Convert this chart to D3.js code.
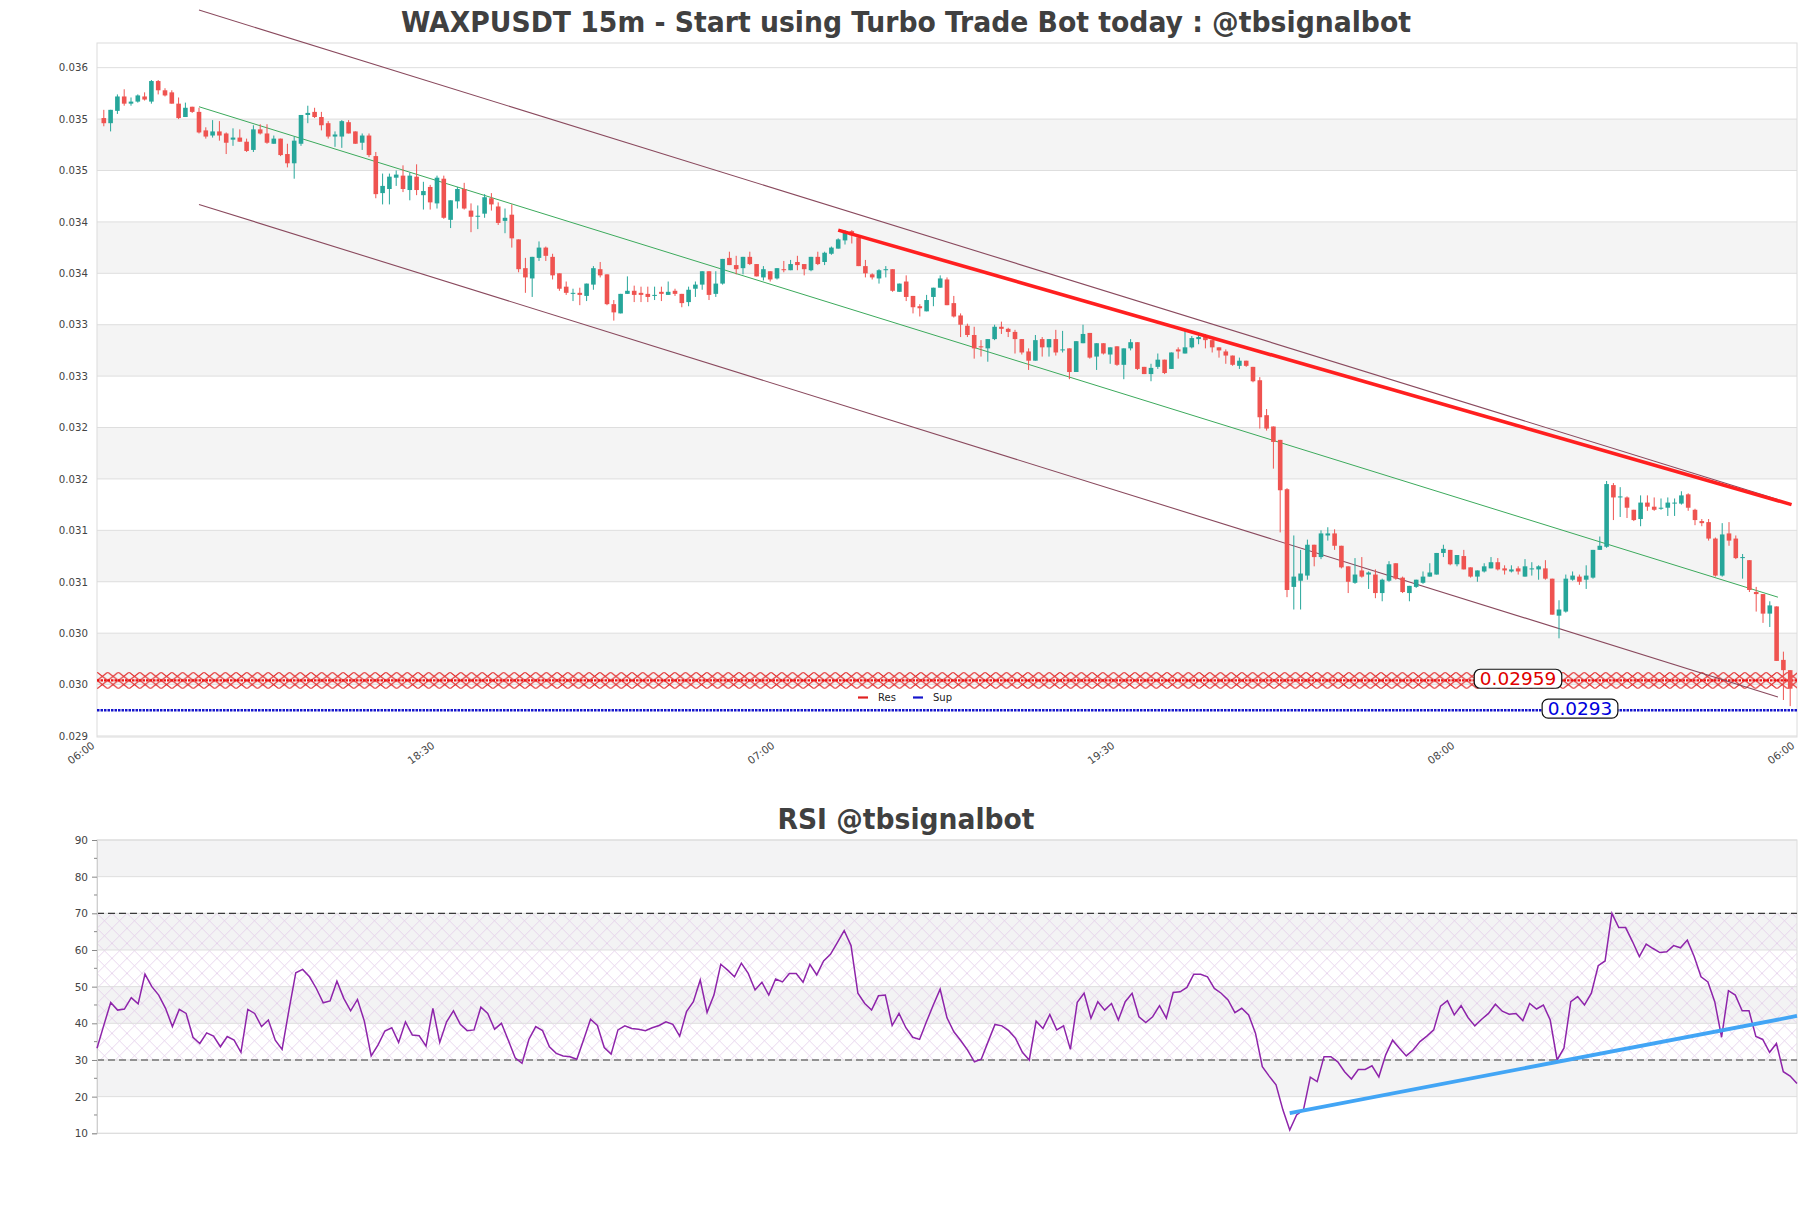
<!DOCTYPE html>
<html><head><meta charset="utf-8">
<script src="https://cdn.jsdelivr.net/npm/d3@7"></script>
<style>
html,body{margin:0;padding:0;background:#fff;}
svg{display:block;font-family:"DejaVu Sans",sans-serif;}
</style></head><body>
<svg id="chart" width="1811" height="1208"></svg>
<script>
// ---------- DATA ----------
const openP = [
0.03506,0.03501,0.03513,0.03527,0.03520,0.03522,0.03527,0.03522,0.03542,0.03533,
0.03531,0.03520,0.03507,0.03517,0.03512,0.03494,0.03489,0.03493,0.03491,0.03485,
0.03487,0.03483,0.03475,0.03495,0.03491,0.03481,0.03486,0.03471,0.03462,0.03481,
0.03509,0.03512,0.03507,0.03501,0.03488,0.03488,0.03502,0.03493,0.03482,0.03489,
0.03469,0.03433,0.03437,0.03448,0.03450,0.03436,0.03449,0.03431,0.03439,0.03423,
0.03447,0.03407,0.03425,0.03437,0.03416,0.03410,0.03413,0.03428,0.03420,0.03406,
0.03412,0.03388,0.03360,0.03350,0.03370,0.03380,0.03371,0.03355,0.03342,0.03335,
0.03336,0.03333,0.03344,0.03359,0.03354,0.03325,0.03316,0.03335,0.03338,0.03336,
0.03335,0.03333,0.03337,0.03334,0.03338,0.03335,0.03327,0.03340,0.03344,0.03357,
0.03335,0.03345,0.03370,0.03363,0.03360,0.03371,0.03364,0.03351,0.03357,0.03350,
0.03359,0.03358,0.03366,0.03364,0.03358,0.03371,0.03366,0.03374,0.03379,0.03387,
0.03396,0.03390,0.03362,0.03354,0.03350,0.03358,0.03359,0.03337,0.03347,0.03333,
0.03323,0.03318,0.03332,0.03341,0.03349,0.03326,0.03314,0.03304,0.03295,0.03284,
0.03282,0.03291,0.03303,0.03301,0.03298,0.03291,0.03279,0.03270,0.03291,0.03283,
0.03291,0.03280,0.03282,0.03259,0.03287,0.03297,0.03274,0.03287,0.03276,0.03284,
0.03266,0.03282,0.03288,0.03264,0.03257,0.03264,0.03271,0.03262,0.03281,0.03277,
0.03283,0.03291,0.03295,0.03290,0.03283,0.03279,0.03275,0.03265,0.03270,0.03264,
0.03251,0.03217,0.03206,0.03193,0.03145,0.03050,0.03056,0.03061,0.03091,0.03079,
0.03100,0.03102,0.03090,0.03070,0.03054,0.03066,0.03062,0.03062,0.03044,0.03056,
0.03073,0.03059,0.03044,0.03050,0.03054,0.03060,0.03062,0.03083,0.03086,0.03072,
0.03080,0.03069,0.03060,0.03065,0.03068,0.03074,0.03068,0.03065,0.03068,0.03060,
0.03067,0.03067,0.03068,0.03058,0.03022,0.03026,0.03057,0.03060,0.03057,0.03059,
0.03086,0.03089,0.03149,0.03137,0.03137,0.03125,0.03116,0.03132,0.03128,0.03126,
0.03127,0.03131,0.03131,0.03140,0.03125,0.03114,0.03113,0.03097,0.03061,0.03102,
0.03097,0.03078,0.03076,0.03045,0.03043,0.03024,0.03031,0.02979,0.02969];
const highP = [
0.03514,0.03514,0.03529,0.03534,0.03526,0.03529,0.03531,0.03543,0.03543,0.03535,
0.03533,0.03526,0.03521,0.03517,0.03516,0.03497,0.03504,0.03503,0.03492,0.03496,
0.03495,0.03486,0.03499,0.03500,0.03500,0.03489,0.03486,0.03481,0.03488,0.03509,
0.03518,0.03516,0.03512,0.03503,0.03493,0.03504,0.03504,0.03493,0.03491,0.03491,
0.03473,0.03452,0.03452,0.03455,0.03460,0.03453,0.03461,0.03444,0.03441,0.03450,
0.03450,0.03426,0.03439,0.03443,0.03423,0.03421,0.03432,0.03433,0.03424,0.03418,
0.03422,0.03388,0.03370,0.03371,0.03386,0.03381,0.03374,0.03355,0.03347,0.03340,
0.03341,0.03345,0.03362,0.03366,0.03354,0.03329,0.03335,0.03352,0.03343,0.03342,
0.03342,0.03342,0.03342,0.03347,0.03340,0.03335,0.03342,0.03347,0.03357,0.03357,
0.03357,0.03369,0.03376,0.03372,0.03371,0.03376,0.03364,0.03362,0.03357,0.03360,
0.03367,0.03368,0.03372,0.03364,0.03371,0.03376,0.03376,0.03381,0.03389,0.03397,
0.03397,0.03390,0.03368,0.03355,0.03359,0.03362,0.03359,0.03345,0.03353,0.03333,
0.03325,0.03334,0.03341,0.03353,0.03351,0.03333,0.03316,0.03306,0.03303,0.03290,
0.03291,0.03305,0.03308,0.03302,0.03300,0.03291,0.03282,0.03295,0.03293,0.03291,
0.03300,0.03299,0.03282,0.03289,0.03305,0.03297,0.03287,0.03287,0.03283,0.03284,
0.03282,0.03291,0.03288,0.03264,0.03267,0.03277,0.03271,0.03278,0.03283,0.03299,
0.03294,0.03296,0.03296,0.03290,0.03283,0.03281,0.03275,0.03273,0.03270,0.03264,
0.03254,0.03223,0.03206,0.03193,0.03146,0.03100,0.03086,0.03096,0.03091,0.03105,
0.03108,0.03106,0.03090,0.03070,0.03078,0.03079,0.03065,0.03067,0.03058,0.03075,
0.03073,0.03060,0.03051,0.03057,0.03065,0.03073,0.03083,0.03091,0.03086,0.03081,
0.03086,0.03069,0.03066,0.03073,0.03079,0.03078,0.03071,0.03071,0.03070,0.03077,
0.03074,0.03071,0.03076,0.03058,0.03037,0.03062,0.03065,0.03062,0.03071,0.03086,
0.03099,0.03153,0.03151,0.03147,0.03138,0.03125,0.03139,0.03139,0.03137,0.03136,
0.03137,0.03136,0.03143,0.03141,0.03126,0.03116,0.03116,0.03098,0.03112,0.03113,
0.03100,0.03082,0.03076,0.03050,0.03043,0.03036,0.03031,0.02987,0.02969];
const lowP = [
0.03498,0.03493,0.03510,0.03518,0.03518,0.03521,0.03523,0.03520,0.03529,0.03527,
0.03520,0.03505,0.03507,0.03511,0.03491,0.03486,0.03487,0.03484,0.03471,0.03479,
0.03483,0.03473,0.03473,0.03490,0.03481,0.03481,0.03469,0.03458,0.03447,0.03479,
0.03501,0.03506,0.03494,0.03486,0.03478,0.03477,0.03491,0.03481,0.03475,0.03468,
0.03428,0.03422,0.03422,0.03440,0.03434,0.03426,0.03431,0.03417,0.03417,0.03418,
0.03408,0.03399,0.03418,0.03417,0.03395,0.03398,0.03409,0.03416,0.03402,0.03394,
0.03380,0.03356,0.03336,0.03332,0.03367,0.03367,0.03349,0.03338,0.03334,0.03328,
0.03324,0.03328,0.03339,0.03351,0.03324,0.03309,0.03316,0.03335,0.03327,0.03327,
0.03327,0.03329,0.03328,0.03334,0.03333,0.03322,0.03323,0.03332,0.03339,0.03329,
0.03332,0.03344,0.03363,0.03354,0.03354,0.03363,0.03352,0.03348,0.03347,0.03349,
0.03356,0.03358,0.03358,0.03353,0.03357,0.03363,0.03363,0.03373,0.03379,0.03383,
0.03384,0.03362,0.03351,0.03349,0.03345,0.03351,0.03337,0.03337,0.03328,0.03316,
0.03313,0.03318,0.03323,0.03341,0.03324,0.03312,0.03293,0.03293,0.03272,0.03274,
0.03269,0.03290,0.03296,0.03293,0.03277,0.03276,0.03261,0.03270,0.03274,0.03274,
0.03275,0.03278,0.03252,0.03259,0.03287,0.03272,0.03261,0.03276,0.03267,0.03265,
0.03252,0.03280,0.03261,0.03257,0.03250,0.03262,0.03257,0.03262,0.03272,0.03277,
0.03282,0.03286,0.03282,0.03278,0.03273,0.03267,0.03265,0.03262,0.03264,0.03249,
0.03204,0.03202,0.03165,0.03103,0.03040,0.03028,0.03028,0.03057,0.03070,0.03077,
0.03095,0.03086,0.03068,0.03044,0.03053,0.03059,0.03048,0.03039,0.03036,0.03055,
0.03057,0.03044,0.03036,0.03049,0.03053,0.03060,0.03062,0.03079,0.03071,0.03070,
0.03067,0.03059,0.03055,0.03064,0.03068,0.03066,0.03062,0.03064,0.03062,0.03060,
0.03061,0.03057,0.03057,0.03023,0.03000,0.03025,0.03056,0.03052,0.03048,0.03058,
0.03086,0.03088,0.03115,0.03118,0.03117,0.03114,0.03109,0.03124,0.03124,0.03125,
0.03119,0.03119,0.03130,0.03124,0.03110,0.03109,0.03095,0.03060,0.03060,0.03090,
0.03077,0.03058,0.03045,0.03026,0.03015,0.03011,0.02978,0.02940,0.02934];
const closeP = [
0.03501,0.03514,0.03527,0.03520,0.03522,0.03528,0.03524,0.03542,0.03533,0.03528,
0.03520,0.03506,0.03516,0.03512,0.03492,0.03488,0.03493,0.03489,0.03482,0.03487,
0.03483,0.03474,0.03495,0.03491,0.03482,0.03486,0.03470,0.03462,0.03484,0.03509,
0.03511,0.03507,0.03499,0.03488,0.03490,0.03503,0.03491,0.03481,0.03489,0.03470,
0.03432,0.03440,0.03449,0.03451,0.03437,0.03450,0.03436,0.03435,0.03424,0.03448,
0.03409,0.03426,0.03437,0.03418,0.03410,0.03411,0.03429,0.03422,0.03404,0.03409,
0.03389,0.03359,0.03351,0.03371,0.03380,0.03372,0.03353,0.03340,0.03336,0.03336,
0.03334,0.03345,0.03360,0.03353,0.03325,0.03317,0.03335,0.03338,0.03334,0.03334,
0.03332,0.03334,0.03335,0.03337,0.03335,0.03326,0.03339,0.03344,0.03357,0.03334,
0.03345,0.03369,0.03363,0.03359,0.03371,0.03364,0.03352,0.03359,0.03349,0.03360,
0.03358,0.03364,0.03363,0.03359,0.03371,0.03364,0.03375,0.03380,0.03388,0.03396,
0.03392,0.03362,0.03355,0.03351,0.03358,0.03359,0.03338,0.03345,0.03332,0.03322,
0.03321,0.03329,0.03341,0.03350,0.03324,0.03313,0.03305,0.03295,0.03282,0.03283,
0.03291,0.03303,0.03301,0.03298,0.03291,0.03278,0.03270,0.03290,0.03283,0.03291,
0.03278,0.03281,0.03259,0.03289,0.03296,0.03273,0.03287,0.03277,0.03283,0.03266,
0.03282,0.03288,0.03262,0.03257,0.03263,0.03271,0.03258,0.03278,0.03279,0.03283,
0.03292,0.03293,0.03290,0.03283,0.03280,0.03275,0.03266,0.03270,0.03265,0.03250,
0.03215,0.03204,0.03191,0.03144,0.03047,0.03060,0.03063,0.03091,0.03079,0.03102,
0.03102,0.03090,0.03069,0.03055,0.03062,0.03060,0.03064,0.03044,0.03057,0.03072,
0.03058,0.03045,0.03051,0.03057,0.03060,0.03064,0.03083,0.03087,0.03072,0.03081,
0.03067,0.03060,0.03066,0.03070,0.03074,0.03067,0.03066,0.03067,0.03065,0.03070,
0.03068,0.03070,0.03058,0.03023,0.03028,0.03058,0.03061,0.03055,0.03061,0.03086,
0.03090,0.03150,0.03137,0.03138,0.03127,0.03115,0.03132,0.03128,0.03125,0.03127,
0.03132,0.03132,0.03139,0.03127,0.03115,0.03112,0.03097,0.03061,0.03101,0.03095,
0.03078,0.03079,0.03047,0.03043,0.03024,0.03032,0.02978,0.02969,0.02951];
const rsiValues = [
33.2,39.5,45.7,43.6,43.9,47.0,45.3,53.4,50.0,47.7,
44.1,39.1,43.8,42.7,36.2,34.5,37.4,36.5,33.6,36.4,
35.4,32.1,43.8,42.7,39.1,40.9,35.4,32.9,43.6,53.8,
54.7,52.7,49.5,45.6,46.1,51.5,46.8,43.4,46.5,40.6,
31.1,34.1,37.9,38.8,34.8,40.4,36.8,36.6,33.8,44.1,
34.8,40.4,43.4,39.7,38.0,38.2,44.4,42.7,38.4,40.0,
35.4,30.6,29.1,35.6,39.1,38.0,33.6,31.8,31.1,30.9,
30.2,35.6,41.1,39.4,33.4,31.6,38.2,39.3,38.6,38.4,
38.0,38.8,39.4,40.4,39.7,36.5,43.2,45.9,51.8,43.0,
47.7,56.1,54.5,52.7,56.4,53.6,49.1,51.2,47.7,52.1,
51.3,53.6,53.6,51.2,56.1,53.2,57.0,58.8,62.0,65.3,
61.2,48.2,45.4,43.6,47.5,47.7,39.4,42.7,38.8,36.2,
35.6,40.4,45.0,49.3,41.5,37.7,35.3,32.7,29.5,30.2,
35.0,39.7,39.3,38.0,35.9,32.1,30.0,40.6,38.6,42.4,
38.2,39.3,32.9,45.7,48.2,41.4,45.9,43.6,45.4,40.9,
45.9,48.2,41.8,40.2,41.8,44.8,41.4,48.4,48.6,49.8,
53.4,53.4,52.7,49.5,48.2,46.4,42.9,44.1,42.3,37.3,
28.2,25.6,23.2,16.4,10.9,15.0,16.4,25.3,24.1,30.9,
30.9,29.5,26.8,24.8,27.4,27.4,28.4,25.4,31.4,35.4,
33.2,31.1,32.7,35.0,36.5,38.2,44.7,46.2,42.3,44.8,
41.6,39.3,41.1,42.7,45.2,43.3,42.5,42.7,40.7,45.4,
43.9,45.0,40.9,30.0,33.2,45.9,47.3,45.0,48.2,55.7,
57.0,70.0,66.1,66.1,62.3,58.2,61.6,60.4,59.3,59.5,
61.2,60.6,62.7,58.2,52.7,51.3,45.9,36.2,48.9,47.7,
43.4,43.4,36.4,35.6,32.1,34.5,26.8,25.6,23.6];

const xTickIdx = [-1, 49, 99, 149, 199, 249];
const xTickLabels = ["06:00","18:30","07:00","19:30","08:00","06:00"];
const yTickVals = [0.02905,0.02955,0.03005,0.03055,0.03105,0.03155,0.03205,0.03255,0.03305,0.03355,0.03405,0.03455,0.03505,0.03555];
const yTickLabels = ["0.029","0.030","0.030","0.031","0.031","0.032","0.032","0.033","0.033","0.034","0.034","0.035","0.035","0.036"];
const rsiTickVals = [10,20,30,40,50,60,70,80,90];
const rsiMinorVals = [15,25,35,45,55,65,75,85];

const channelIdx = [14, 246.2];
const channelUpper = [0.03611, 0.03135];
const channelMid = [0.03517, 0.03040];
const channelLower = [0.03422, 0.02943];
const resTrendIdx = [108, 248.2];
const resTrendVal = [0.03397, 0.03130];
const resLevel = 0.02959, resBand = [0.02951, 0.02967];
const supLevel = 0.0293;
const resLabel = "0.02959", supLabel = "0.0293";
const rsiTrendIdx = [174, 248];
const rsiTrendVal = [15.5, 42.0];
const legendNames = ["Res","Sup"];

// ---------- DRAW ----------
const svg = d3.select("#chart");
const defs = svg.append("defs");
const UP = "#26a69a", DOWN = "#ef5350";
const P = {l:97, r:1797, t:43, b:737};
const x = d3.scaleLinear().domain([-1, 249]).range([P.l, P.r]);
const y = d3.scaleLinear().domain([0.02904, 0.03579]).range([P.b, P.t]);

// title
svg.append("text").attr("x", 906).attr("y", 32).attr("text-anchor","middle")
  .attr("font-family","'DejaVu Sans Condensed','DejaVu Sans',sans-serif").attr("font-weight","bold")
  .attr("font-size", 28).attr("fill","#404040")
  .attr("textLength", 1010).attr("lengthAdjust","spacingAndGlyphs")
  .text("WAXPUSDT 15m - Start using Turbo Trade Bot today : @tbsignalbot");

// bands
const bandPairs = [[1,2],[3,4],[5,6],[7,8],[9,10],[11,12]];
svg.append("g").selectAll("rect").data(bandPairs).join("rect")
  .attr("x", P.l).attr("width", P.r - P.l)
  .attr("y", d => y(yTickVals[d[1]])).attr("height", d => y(yTickVals[d[0]]) - y(yTickVals[d[1]]))
  .attr("fill", "#f4f4f4");
// grid
svg.append("g").selectAll("line").data(yTickVals).join("line")
  .attr("x1", P.l).attr("x2", P.r).attr("y1", d => y(d)).attr("y2", d => y(d))
  .attr("stroke", "#dedede").attr("stroke-width", 1);
// frame
svg.append("rect").attr("x", P.l).attr("y", P.t).attr("width", P.r-P.l).attr("height", P.b-P.t)
  .attr("fill","none").attr("stroke","#dcdcdc").attr("stroke-width",1);

// y axis
const yAxis = svg.append("g").attr("transform", `translate(${P.l},0)`)
  .call(d3.axisLeft(y).tickValues(yTickVals).tickFormat((d,i) => yTickLabels[i]).tickSize(0).tickPadding(9));
yAxis.select(".domain").remove();
yAxis.selectAll("text").attr("font-size", 10.2).attr("fill","#444").attr("font-family","'DejaVu Sans',sans-serif");

// x axis
const xAxis = svg.append("g").attr("transform", `translate(0,${P.b})`)
  .call(d3.axisBottom(x).tickValues(xTickIdx).tickFormat((d,i) => xTickLabels[i]).tickSize(0));
xAxis.select(".domain").remove();
xAxis.selectAll("text").attr("font-size", 10.5).attr("fill","#444").attr("font-family","'DejaVu Sans',sans-serif")
  .attr("text-anchor","end").attr("x",0).attr("y",0).attr("dy",0)
  .attr("transform","translate(-2,10) rotate(-36)");

// res band (hatched)
const bandTop = y(resBand[1]), bandBot = y(resBand[0]);
const hh = (bandBot - bandTop) / 2;
const rp = defs.append("pattern").attr("id","resHatch").attr("patternUnits","userSpaceOnUse")
  .attr("x", P.l).attr("y", bandTop).attr("width", 10.7).attr("height", hh);
rp.append("path").attr("d", `M0,0L10.7,${hh}M0,${hh}L10.7,0`).attr("stroke","#e32626").attr("stroke-width",1.15).attr("fill","none");
svg.append("rect").attr("x", P.l).attr("width", P.r-P.l).attr("y", bandTop).attr("height", bandBot-bandTop)
  .attr("fill","url(#resHatch)");
svg.append("line").attr("x1",P.l).attr("x2",P.r).attr("y1",y(resLevel)).attr("y2",y(resLevel))
  .attr("stroke","#ee1111").attr("stroke-width",2.2).attr("stroke-dasharray","2.5,1");
svg.append("line").attr("x1",P.l).attr("x2",P.r).attr("y1",y(supLevel)).attr("y2",y(supLevel))
  .attr("stroke","#1515cc").attr("stroke-width",2.5).attr("stroke-dasharray","2.5,1");

// channel lines
const lineFn = (vals) => d3.line()(channelIdx.map((c,i) => [x(c), y(vals[i])]));
svg.append("path").attr("d", lineFn(channelUpper)).attr("stroke","#8a4a5e").attr("stroke-width",1.1).attr("fill","none");
svg.append("path").attr("d", lineFn(channelLower)).attr("stroke","#8a4a5e").attr("stroke-width",1.1).attr("fill","none");
svg.append("path").attr("d", lineFn(channelMid)).attr("stroke","#3caa5c").attr("stroke-width",1).attr("fill","none");

// candles
const idx = d3.range(openP.length);
const cg = svg.append("g");
cg.selectAll("line").data(idx).join("line")
  .attr("x1", i => x(i)).attr("x2", i => x(i))
  .attr("y1", i => y(highP[i])).attr("y2", i => y(lowP[i]))
  .attr("stroke", i => closeP[i] >= openP[i] ? UP : DOWN).attr("stroke-width", 1);
cg.selectAll("rect").data(idx).join("rect")
  .attr("x", i => x(i) - 2.3).attr("width", 4.6)
  .attr("y", i => y(Math.max(openP[i], closeP[i])))
  .attr("height", i => Math.max(1, Math.abs(y(openP[i]) - y(closeP[i]))))
  .attr("fill", i => closeP[i] >= openP[i] ? UP : DOWN);

// resistance trend line
svg.append("path").attr("d", d3.line()(resTrendIdx.map((c,i) => [x(c), y(resTrendVal[i])])))
  .attr("stroke","#ff1f1f").attr("stroke-width",3.6).attr("fill","none");

// level labels
function levelLabel(val, txt, color, cx) {
  const g = svg.append("g");
  const cy = y(val) - 1.7;
  const t = g.append("text").attr("x", cx).attr("y", cy).attr("text-anchor","middle")
    .attr("dominant-baseline","central").attr("font-size", 18.5).attr("fill", color).text(txt);
  const w = t.node().getComputedTextLength();
  g.insert("rect","text").attr("x", cx - w/2 - 5.5).attr("y", cy - 9.5).attr("width", w + 11).attr("height", 19)
    .attr("rx", 6).attr("fill","#fff").attr("stroke","#111").attr("stroke-width",1.2);
}
levelLabel(resLevel, resLabel, "#e00000", 1518);
levelLabel(supLevel, supLabel, "#0000dd", 1580);

// legend
const lg = svg.append("g");
const legendColors = ["#e02020","#1515cc"];
const legendX = [858, 913];
legendNames.forEach((n,i) => {
  lg.append("line").attr("x1", legendX[i]).attr("x2", legendX[i]+10).attr("y1", 697.5).attr("y2", 697.5)
    .attr("stroke", legendColors[i]).attr("stroke-width", 2.2);
  lg.append("text").attr("x", legendX[i]+20).attr("y", 701).attr("font-size", 10).attr("fill","#222").text(n);
});

// ---------- RSI PANEL ----------
const R = {l:97, r:1797, t:840, b:1133.3};
const rx = d3.scaleLinear().domain([0, rsiValues.length - 1]).range([R.l, R.r]);
const ry = d3.scaleLinear().domain([10, 90]).range([R.b, R.t]);

svg.append("text").attr("x", 906).attr("y", 829).attr("text-anchor","middle")
  .attr("font-family","'DejaVu Sans Condensed','DejaVu Sans',sans-serif").attr("font-weight","bold")
  .attr("font-size", 28).attr("fill","#404040")
  .attr("textLength", 257).attr("lengthAdjust","spacingAndGlyphs")
  .text("RSI @tbsignalbot");

const rsiBands = [[80,90],[60,70],[40,50],[20,30]];
svg.append("g").selectAll("rect").data(rsiBands).join("rect")
  .attr("x", R.l).attr("width", R.r-R.l).attr("y", d => ry(d[1])).attr("height", d => ry(d[0]) - ry(d[1]))
  .attr("fill","#f3f3f4");
const hp = defs.append("pattern").attr("id","rsiHatch").attr("patternUnits","userSpaceOnUse")
  .attr("x", R.l).attr("y", ry(70)).attr("width", 15).attr("height", 15);
hp.append("path").attr("d","M0,0L15,15M15,0L0,15").attr("stroke","#dfc6e6").attr("stroke-width",0.7).attr("fill","none");
svg.append("rect").attr("x", R.l).attr("width", R.r-R.l).attr("y", ry(70)).attr("height", ry(30)-ry(70))
  .attr("fill","url(#rsiHatch)");
svg.append("g").selectAll("line").data(rsiTickVals).join("line")
  .attr("x1", R.l).attr("x2", R.r).attr("y1", d => ry(d)).attr("y2", d => ry(d))
  .attr("stroke","#dedede").attr("stroke-width",1);
svg.append("rect").attr("x", R.l).attr("y", R.t).attr("width", R.r-R.l).attr("height", R.b-R.t)
  .attr("fill","none").attr("stroke","#dcdcdc").attr("stroke-width",1);
[30,70].forEach(v => svg.append("line").attr("x1",R.l).attr("x2",R.r).attr("y1",ry(v)).attr("y2",ry(v))
  .attr("stroke","#3a3a3a").attr("stroke-width",1.2).attr("stroke-dasharray","7,4"));

const ryAxis = svg.append("g").attr("transform", `translate(${R.l},0)`)
  .call(d3.axisLeft(ry).tickValues(rsiTickVals).tickSize(5).tickPadding(4));
ryAxis.select(".domain").attr("stroke","#cfcfcf");
ryAxis.selectAll(".tick line").attr("stroke","#888");
ryAxis.selectAll("text").attr("font-size", 10.5).attr("fill","#444").attr("font-family","'DejaVu Sans',sans-serif");
svg.append("g").selectAll("line").data(rsiMinorVals).join("line")
  .attr("x1", R.l - 3).attr("x2", R.l).attr("y1", d => ry(d)).attr("y2", d => ry(d))
  .attr("stroke","#888").attr("stroke-width",1);

svg.append("path").datum(rsiValues)
  .attr("d", d3.line().x((d,i) => rx(i)).y(d => ry(d)))
  .attr("fill","none").attr("stroke","#8e24aa").attr("stroke-width",1.5);
svg.append("path").attr("d", d3.line()(rsiTrendIdx.map((c,i) => [rx(c), ry(rsiTrendVal[i])])))
  .attr("stroke","#42a5f5").attr("stroke-width",3.8).attr("fill","none");
</script>
</body></html>
